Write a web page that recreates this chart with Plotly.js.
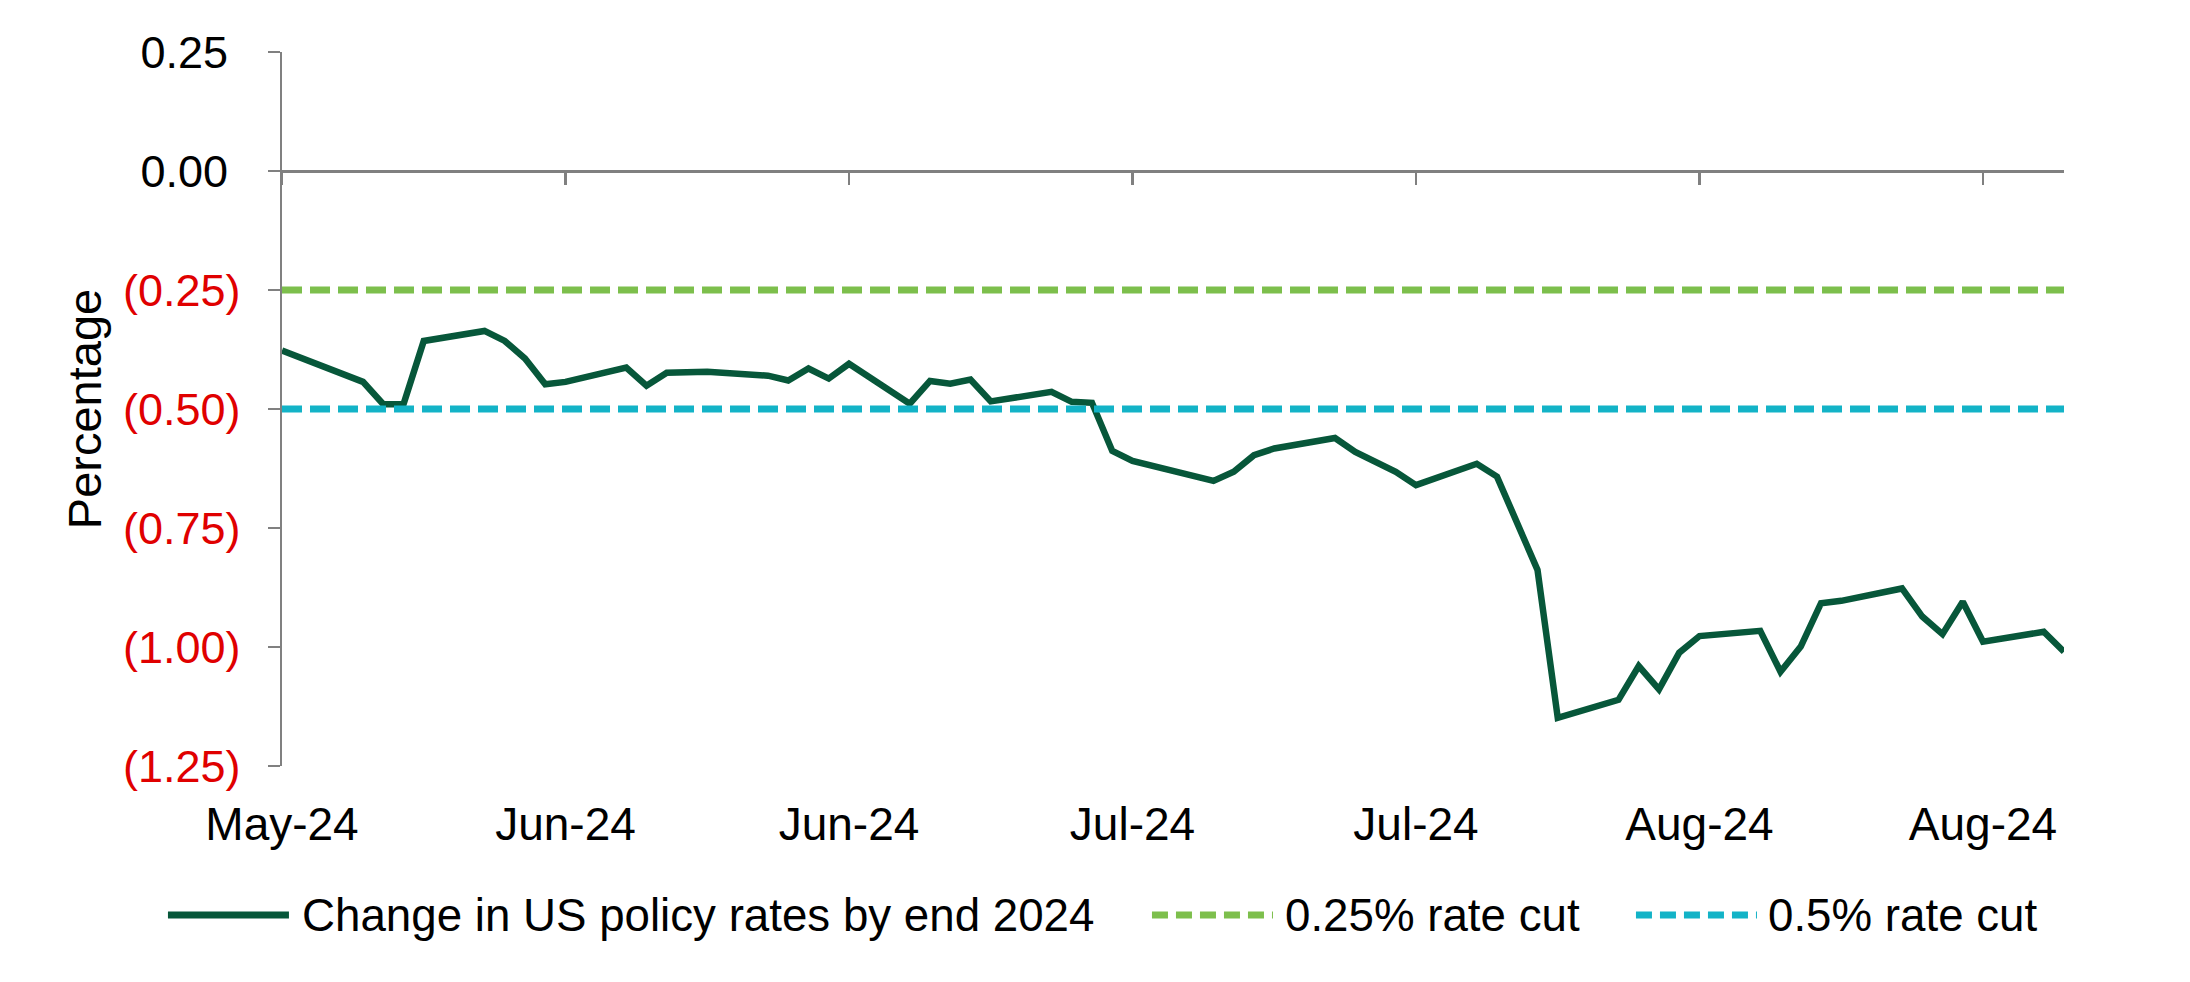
<!DOCTYPE html>
<html>
<head>
<meta charset="utf-8">
<script src="https://cdn.plot.ly/plotly-3.0.1.min.js"></script>
<style>html,body{margin:0;padding:0;background:#fff;}#chart{width:2190px;height:982px;}</style>
</head>
<body>
<div id="chart"></div>
<script>
// ---- Data ----
const dates = [
  '2024-05-31','2024-06-04','2024-06-05','2024-06-06','2024-06-07',
  '2024-06-10','2024-06-11','2024-06-12','2024-06-13','2024-06-14',
  '2024-06-17','2024-06-18','2024-06-19','2024-06-20','2024-06-21',
  '2024-06-24','2024-06-25','2024-06-26','2024-06-27','2024-06-28',
  '2024-07-01','2024-07-02','2024-07-03','2024-07-04','2024-07-05',
  '2024-07-08','2024-07-09','2024-07-10','2024-07-11','2024-07-12',
  '2024-07-15','2024-07-16','2024-07-17','2024-07-18','2024-07-19',
  '2024-07-22','2024-07-23','2024-07-24','2024-07-25','2024-07-26',
  '2024-07-29','2024-07-30','2024-07-31','2024-08-01','2024-08-02',
  '2024-08-05','2024-08-06','2024-08-07','2024-08-08','2024-08-09',
  '2024-08-12','2024-08-13','2024-08-14','2024-08-15','2024-08-16',
  '2024-08-19','2024-08-20','2024-08-21','2024-08-22','2024-08-23',
  '2024-08-26','2024-08-27'
];
const policyChange = [
  -0.377,-0.443,-0.490,-0.490,-0.357,
  -0.336,-0.357,-0.394,-0.448,-0.443,
  -0.413,-0.451,-0.424,-0.422,-0.422,
  -0.430,-0.440,-0.415,-0.436,-0.405,
  -0.489,-0.441,-0.447,-0.438,-0.484,
  -0.464,-0.485,-0.487,-0.588,-0.609,
  -0.640,-0.651,-0.632,-0.597,-0.583,
  -0.561,-0.590,-0.611,-0.632,-0.660,
  -0.615,-0.642,-0.737,-0.838,-1.149,
  -1.111,-1.040,-1.089,-1.012,-0.977,
  -0.966,-1.052,-0.999,-0.908,-0.903,
  -0.877,-0.936,-0.973,-0.905,-0.989,
  -0.968,-1.010
];
const cut25 = [-0.25, -0.25];
const cut50 = [-0.5, -0.5];
const seriesNames = ['Change in US policy rates by end 2024', '0.25% rate cut', '0.5% rate cut'];
const xTickDates = ['2024-05-31','2024-06-14','2024-06-28','2024-07-12','2024-07-26','2024-08-09','2024-08-23'];
const xTickLabels = ['May-24','Jun-24','Jun-24','Jul-24','Jul-24','Aug-24','Aug-24'];
const yTickVals = [0.25, 0, -0.25, -0.5, -0.75, -1, -1.25];
const yTickLabels = ['0.25','0.00','(0.25)','(0.50)','(0.75)','(1.00)','(1.25)'];

// ---- Styling ----
const FONT = 'Liberation Sans, Arial, Helvetica, sans-serif';
const FS = 46;
const AXIS_GREY = '#808080';
const C_MAIN = '#07573a';
const C_25 = '#7dbf4c';
const C_50 = '#13b3c7';
const RED = '#e00000';

const lineDates = [dates[0], dates[dates.length - 1]];
const yTickText = yTickVals.map((v, i) =>
  v < 0 ? '<span style="color:' + RED + '">' + yTickLabels[i] + '</span>' : yTickLabels[i] + '\u00a0');

const traces = [
  {x: dates, y: policyChange, name: seriesNames[0], type: 'scatter', mode: 'lines',
   xaxis: 'x', yaxis: 'y', line: {color: C_MAIN, width: 6.5}, hoverinfo: 'x+y'},
  {x: lineDates, y: cut25, name: seriesNames[1], type: 'scatter', mode: 'lines',
   xaxis: 'x2', yaxis: 'y', line: {color: C_25, width: 7, dash: '20px,8px'}},
  {x: lineDates, y: cut50, name: seriesNames[2], type: 'scatter', mode: 'lines',
   xaxis: 'x2', yaxis: 'y', line: {color: C_50, width: 7, dash: '20px,8px'}}
];

const LEG_Y = -0.2087;
const legendItems = [
  {x0: -0.064, x1: 0.0039, tx: 0.0100, color: C_MAIN, dash: 'solid', w: 7},
  {x0: 0.4882, x1: 0.5561, tx: 0.5615, color: C_25, dash: '16px,8px', w: 7},
  {x0: 0.7598, x1: 0.8277, tx: 0.8330, color: C_50, dash: '16px,8px', w: 7}
];
const shapes = legendItems.map(it => ({
  type: 'line', xref: 'paper', yref: 'paper', x0: it.x0, x1: it.x1, y0: LEG_Y, y1: LEG_Y,
  line: {color: it.color, width: it.w, dash: it.dash}
}));
const annotations = legendItems.map((it, i) => ({
  xref: 'paper', yref: 'paper', x: it.tx, y: LEG_Y, xanchor: 'left', yanchor: 'middle',
  text: seriesNames[i], showarrow: false, font: {family: FONT, size: 45.7, color: '#000'}
}));

const layout = {
  width: 2190, height: 982,
  margin: {l: 282, r: 126, t: 52, b: 216, pad: 0},
  paper_bgcolor: '#fff', plot_bgcolor: '#fff',
  font: {family: FONT, size: FS, color: '#000'},
  showlegend: false,
  xaxis: {
    type: 'date', range: lineDates, tickmode: 'array', tickvals: xTickDates, ticktext: xTickLabels,
    ticks: '', showline: false, showgrid: false, zeroline: false,
    tickfont: {family: FONT, size: FS, color: '#000'}, ticklabelstandoff: 27, automargin: false
  },
  xaxis2: {
    type: 'date', range: lineDates, overlaying: 'x', anchor: 'free', position: 1.25 / 1.5,
    tickmode: 'array', tickvals: xTickDates, showticklabels: false,
    ticks: 'outside', ticklen: 12, tickwidth: 2.5, tickcolor: AXIS_GREY,
    showline: true, linecolor: AXIS_GREY, linewidth: 2.5, showgrid: false, zeroline: false
  },
  yaxis: {
    range: [-1.25, 0.25], tickmode: 'array', tickvals: yTickVals, ticktext: yTickText,
    ticks: 'outside', ticklen: 12, tickwidth: 2.5, tickcolor: AXIS_GREY,
    showline: true, linecolor: AXIS_GREY, linewidth: 2.5, showgrid: false, zeroline: false,
    tickfont: {family: FONT, size: 45, color: '#000'}, ticklabelstandoff: 18, automargin: false,
    title: {text: 'Percentage', font: {family: FONT, size: 47, color: '#000'}, standoff: 7}
  },
  shapes: shapes,
  annotations: annotations
};

Plotly.newPlot('chart', traces, layout, {displayModeBar: false, staticPlot: true});
</script>
</body>
</html>
